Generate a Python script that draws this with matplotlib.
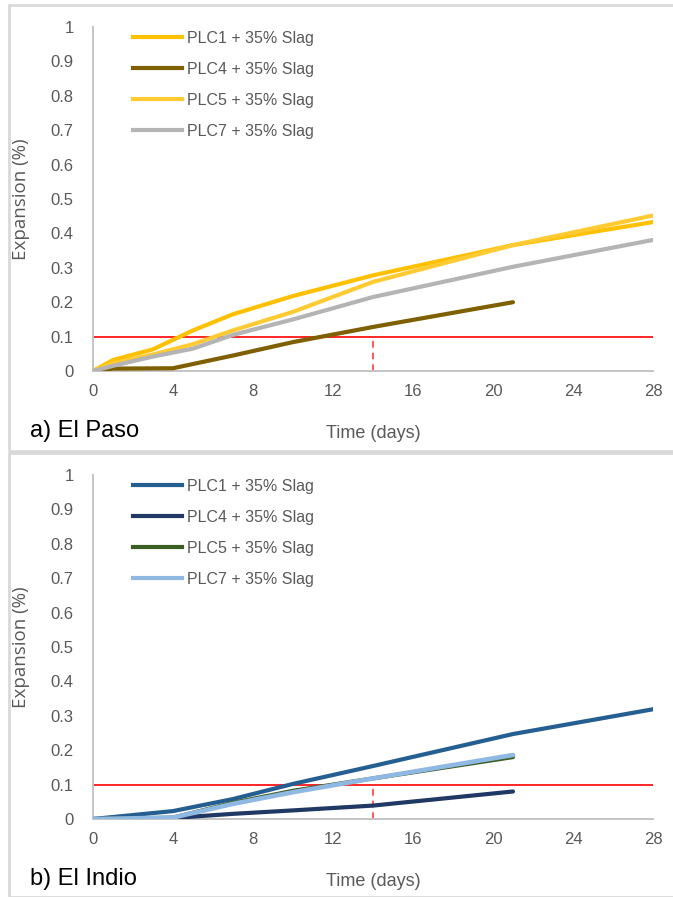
import numpy as np
import matplotlib
matplotlib.use("Agg")
import matplotlib.pyplot as plt
from matplotlib.patches import Rectangle
from matplotlib.lines import Line2D

plt.rcParams["font.family"] = ["Liberation Sans", "DejaVu Sans"]

# ---- data ----
labels = ["PLC1 + 35% Slag", "PLC4 + 35% Slag", "PLC5 + 35% Slag", "PLC7 + 35% Slag"]

# El Paso
ep_t1 = [0, 1, 3, 5, 7, 10, 14, 21, 28]
ep_plc1 = [0, 0.032, 0.063, 0.118, 0.165, 0.218, 0.278, 0.366, 0.433]
ep_t4 = [0, 1, 4, 7, 10, 14, 21]
ep_plc4 = [0, 0.007, 0.008, 0.045, 0.084, 0.128, 0.200]
ep_t5 = [0, 1, 3, 5, 7, 10, 14, 21, 28]
ep_plc5 = [0, 0.022, 0.048, 0.078, 0.118, 0.172, 0.259, 0.366, 0.452]
ep_t7 = [0, 1, 3, 5, 7, 10, 14, 21, 28]
ep_plc7 = [0, 0.015, 0.042, 0.065, 0.105, 0.150, 0.215, 0.303, 0.381]

# El Indio
ei_t1 = [0, 4, 7, 10, 14, 21, 28]
ei_plc1 = [0, 0.023, 0.058, 0.102, 0.154, 0.247, 0.319]
ei_t4 = [0, 4, 7, 10, 14, 21]
ei_plc4 = [0, 0.003, 0.015, 0.025, 0.039, 0.080]
ei_t5 = [0, 4, 7, 10, 14, 21]
ei_plc5 = [0, 0.004, 0.047, 0.082, 0.118, 0.180]
ei_t7 = [0, 4, 7, 10, 14, 21]
ei_plc7 = [0, 0.004, 0.044, 0.078, 0.118, 0.186]

limit = 0.1
limit_day = 14
xticks = [0, 4, 8, 12, 16, 20, 24, 28]
yticks = [0, 0.1, 0.2, 0.3, 0.4, 0.5, 0.6, 0.7, 0.8, 0.9, 1.0]
ytick_labels = ["0", "0.1", "0.2", "0.3", "0.4", "0.5", "0.6", "0.7", "0.8", "0.9", "1"]

C_TEXT = "#595959"
C_AXIS = "#BFBFBF"

W, H = 673, 897
fig = plt.figure(figsize=(W / 100, H / 100), dpi=100)

# panel frames
for y0, y1 in [(5, 451), (453, 897)]:
    fig.patches.append(Rectangle((9 / W, 1 - y1 / H), (W + 5 - 9) / W, (y1 - y0) / H,
                                 transform=fig.transFigure, fill=False,
                                 edgecolor="#D9D9D9", linewidth=2))


def panel(top_px, series, colors, widths, title):
    # axes: x 93..653 px, y spans 344 px
    ax = fig.add_axes([93 / W, 1 - (top_px + 344) / H, 560 / W, 344 / H])
    for (t, v), c, lw in zip(series, colors, widths):
        ax.plot(t, v, color=c, linewidth=lw, solid_capstyle="round", zorder=3)
    ax.plot([0, 28], [limit, limit], color="#FF0000", linewidth=1.2, zorder=2)
    ax.plot([limit_day, limit_day], [0, limit], color="#FF3B3B", linewidth=1.2,
            linestyle=(0, (4, 3)), zorder=2)
    ax.set_xlim(0, 28)
    ax.set_ylim(0, 1)
    ax.set_xticks(xticks)
    ax.set_yticks(yticks)
    ax.set_yticklabels(ytick_labels)
    ax.tick_params(length=0, labelsize=12, colors=C_TEXT)
    ax.tick_params(axis="x", pad=9)
    ax.tick_params(axis="y", pad=14)
    for s in ["top", "right"]:
        ax.spines[s].set_visible(False)
    for s in ["left", "bottom"]:
        ax.spines[s].set_color(C_AXIS)
        ax.spines[s].set_linewidth(1.3)
    ax.set_ylabel("Expansion (%)", fontsize=13.5, color=C_TEXT, family="Open Sans")
    ax.yaxis.set_label_coords(-0.112, 0.5)
    ax.set_xlabel("Time (days)", fontsize=13, color=C_TEXT)
    ax.xaxis.set_label_coords(0.5, -0.158)
    handles = [Line2D([], [], color=c, linewidth=3) for c in colors]
    ax.legend(handles, labels, loc="upper left", bbox_to_anchor=(0.045, 1.03), frameon=False,
              fontsize=11.5, labelcolor=C_TEXT, handlelength=3.1, handletextpad=0.3,
              labelspacing=1.0)
    fig.text(30 / W, 1 - (top_px + 404) / H, title, fontsize=17, color="black",
             va="center", ha="left")
    return ax


panel(27,
      [(ep_t1, ep_plc1), (ep_t4, ep_plc4), (ep_t5, ep_plc5), (ep_t7, ep_plc7)],
      ["#FFC000", "#7F6000", "#FFCA32", "#B4B4B4"],
      [3, 3, 3, 3],
      "a) El Paso")

panel(475,
      [(ei_t1, ei_plc1), (ei_t4, ei_plc4), (ei_t5, ei_plc5), (ei_t7, ei_plc7)],
      ["#255E91", "#203864", "#3B5E23", "#8FB8E2"],
      [3, 3, 3, 3.3],
      "b) El Indio")

fig.savefig("out.png", dpi=100, facecolor="white")
